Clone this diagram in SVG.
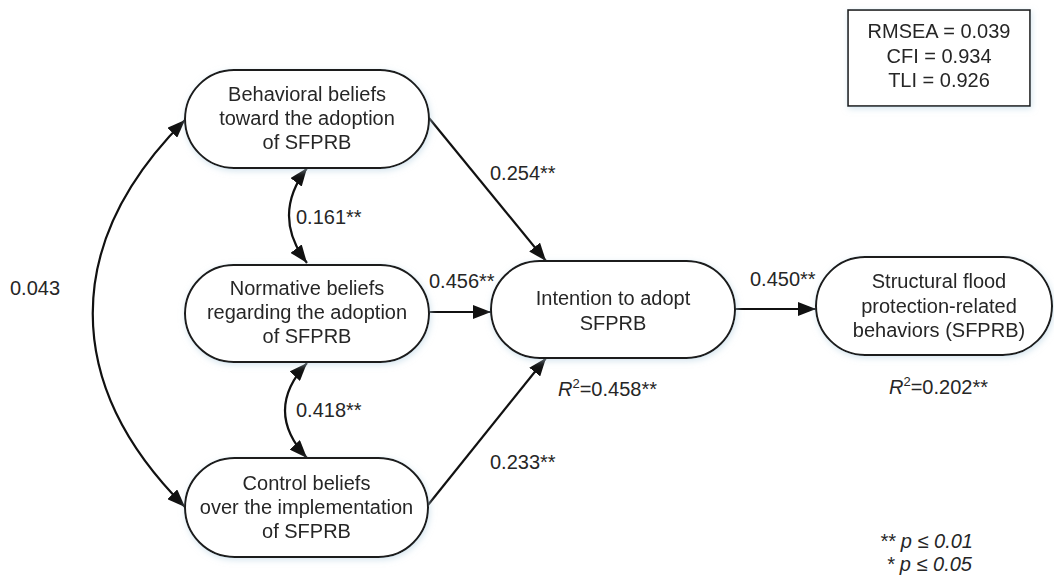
<svg xmlns="http://www.w3.org/2000/svg" width="1054" height="579" viewBox="0 0 1054 579">
<defs>
<filter id="glow" x="-10%" y="-20%" width="120%" height="140%">
<feGaussianBlur in="SourceAlpha" stdDeviation="3" result="b"/>
<feFlood flood-color="#b9d3e3" flood-opacity="0.6"/>
<feComposite in2="b" operator="in" result="s"/>
<feOffset dx="1" dy="2" result="o"/>
<feMerge><feMergeNode in="o"/><feMergeNode in="SourceGraphic"/></feMerge>
</filter>
<marker id="ah" viewBox="0 0 18 14" markerWidth="18" markerHeight="14" refX="18" refY="7" orient="auto-start-reverse" markerUnits="userSpaceOnUse">
<path d="M0,0 L18,7 L0,14 z" fill="#111"/>
</marker>
</defs>
<style>
.node{fill:#fff;stroke:#1a1a1a;stroke-width:2}
.t{font-family:"Liberation Sans",Arial,sans-serif;font-size:20px;fill:#262626;text-anchor:middle}
.l{font-family:"Liberation Sans",Arial,sans-serif;font-size:20px;fill:#262626}
.i{font-style:italic}
.c{fill:none;stroke:#111;stroke-width:2.2}
</style>
<rect width="1054" height="579" fill="#fff"/>

<g id="connectors">
<path class="c" d="M185,120 C62,243 62,384 185,507" marker-start="url(#ah)" marker-end="url(#ah)"/>
<path class="c" d="M307,168 Q271,215.5 307,263" marker-start="url(#ah)" marker-end="url(#ah)"/>
<path class="c" d="M307,363 Q263,410.5 307,458" marker-start="url(#ah)" marker-end="url(#ah)"/>
<path class="c" d="M429,118 L546,261" marker-end="url(#ah)"/>
<path class="c" d="M429,312 L491,312" marker-end="url(#ah)"/>
<path class="c" d="M428,505 L546,358" marker-end="url(#ah)"/>
<path class="c" d="M735,309 L816,309" marker-end="url(#ah)"/>
<text class="l" x="10" y="295">0.043</text>
<text class="l" x="296" y="224">0.161**</text>
<text class="l" x="296" y="417">0.418**</text>
<text class="l" x="490" y="180">0.254**</text>
<text class="l" x="429" y="288">0.456**</text>
<text class="l" x="490" y="469">0.233**</text>
<text class="l" x="750" y="286">0.450**</text>
</g>

<g id="behavioral" filter="url(#glow)">
<rect class="node" x="185" y="70" width="244" height="98" rx="49"/>
<text class="t" x="307" y="101">Behavioral beliefs</text>
<text class="t" x="307" y="125">toward the adoption</text>
<text class="t" x="307" y="149">of SFPRB</text>
</g>

<g id="normative" filter="url(#glow)">
<rect class="node" x="185" y="265" width="244" height="97" rx="48.5"/>
<text class="t" x="307" y="295">Normative beliefs</text>
<text class="t" x="307" y="319">regarding the adoption</text>
<text class="t" x="307" y="343">of SFPRB</text>
</g>

<g id="control" filter="url(#glow)">
<rect class="node" x="185" y="458" width="243" height="99" rx="49.5"/>
<text class="t" x="306.5" y="490">Control beliefs</text>
<text class="t" x="306.5" y="514">over the implementation</text>
<text class="t" x="306.5" y="538">of SFPRB</text>
</g>

<g id="intention" filter="url(#glow)">
<rect class="node" x="491" y="261" width="244" height="97" rx="48.5"/>
<text class="t" x="613" y="305">Intention to adopt</text>
<text class="t" x="613" y="330">SFPRB</text>
</g>
<g id="r2-intention">
<text class="l" x="558" y="396"><tspan class="i">R</tspan><tspan font-size="13" dy="-8">2</tspan><tspan dy="8">=0.458**</tspan></text>
</g>

<g id="behaviors" filter="url(#glow)">
<rect class="node" x="816" y="257" width="236" height="98" rx="49"/>
<text class="t" x="939" y="288">Structural flood</text>
<text class="t" x="939" y="313">protection-related</text>
<text class="t" x="939" y="337">behaviors (SFPRB)</text>
</g>
<g id="r2-behaviors">
<text class="l" x="889" y="394"><tspan class="i">R</tspan><tspan font-size="13" dy="-8">2</tspan><tspan dy="8">=0.202**</tspan></text>
</g>

<g id="fit" filter="url(#glow)">
<rect x="848" y="10" width="182" height="96" fill="#fff" stroke="#1a1a1a" stroke-width="1.6"/>
<text class="t" x="939" y="38">RMSEA = 0.039</text>
<text class="t" x="939" y="63">CFI = 0.934</text>
<text class="t" x="939" y="87">TLI = 0.926</text>
</g>

<g id="legend">
<text class="l i" x="973" y="548" text-anchor="end">** p ≤ 0.01</text>
<text class="l i" x="972" y="571" text-anchor="end">* p ≤ 0.05</text>
</g>
</svg>
